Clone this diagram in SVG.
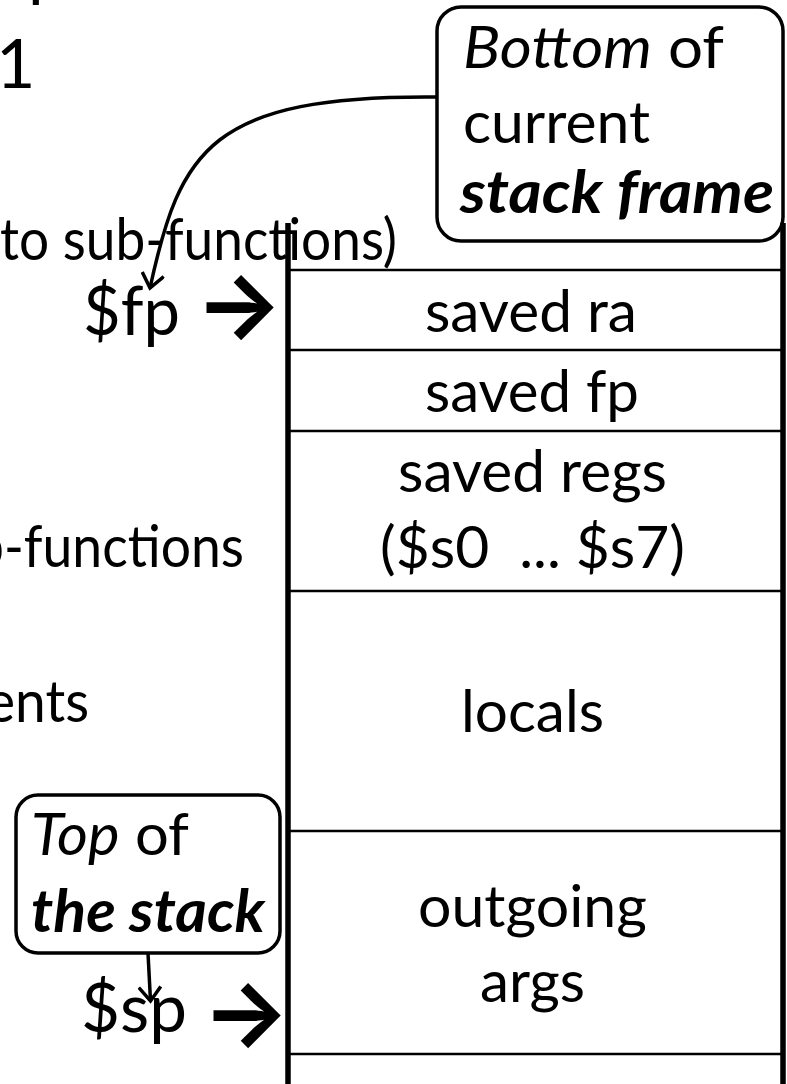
<svg xmlns="http://www.w3.org/2000/svg" width="787" height="1084" viewBox="0 0 787 1084">
<defs>
<style>
text{font-family:Lato,"Open Sans","Noto Sans",sans-serif;fill:#000;}
.body{font-size:59px;}
.big{font-size:68px;}
.arr{font-family:Inter,"DejaVu Sans",sans-serif;font-weight:bold;font-size:92px;}
.it{font-style:italic;}
.bi{font-style:italic;font-weight:bold;}
.pre{white-space:pre;}
.cell{stroke:#000;stroke-width:2.5;}
.wall{stroke:#000;stroke-width:5.5;}
.callout{fill:none;stroke:#000;stroke-width:3.5;}
.conn{fill:none;stroke:#000;stroke-width:3.5;}
</style>
<marker id="open" viewBox="-16 -12 20 24" refX="0" refY="0" markerWidth="20" markerHeight="24" markerUnits="userSpaceOnUse" orient="auto">
<path d="M-14,-11 L0,0 L-14,11" fill="none" stroke="#000" stroke-width="3.5"/>
</marker>
</defs>

<g id="background-text">
<text class="big" x="28" y="-7">p</text>
<text class="big" x="-4" y="88">1</text>
<text class="body" x="0" y="260" textLength="397" lengthAdjust="spacingAndGlyphs">to sub-functions)</text>
<text class="body" x="-26" y="567" textLength="270" lengthAdjust="spacingAndGlyphs">b-functions</text>
<text class="body" x="-14" y="722" textLength="103" lengthAdjust="spacingAndGlyphs">ents</text>
</g>

<g id="stack">
<line class="cell" x1="290" y1="270" x2="781" y2="270"/>
<line class="cell" x1="290" y1="350" x2="781" y2="350"/>
<line class="cell" x1="290" y1="431" x2="781" y2="431"/>
<line class="cell" x1="290" y1="591" x2="781" y2="591"/>
<line class="cell" x1="290" y1="831" x2="781" y2="831"/>
<line class="cell" x1="290" y1="1054" x2="781" y2="1054"/>
<line class="wall" x1="288" y1="223" x2="288" y2="1084"/>
<line class="wall" x1="783" y1="223" x2="783" y2="1084"/>
</g>

<g id="saved-ra"><text class="body" x="425" y="332" textLength="212" lengthAdjust="spacingAndGlyphs">saved ra</text></g>
<g id="saved-fp"><text class="body" x="425" y="412" textLength="214" lengthAdjust="spacingAndGlyphs">saved fp</text></g>
<g id="saved-regs">
<text class="body" x="398" y="492" textLength="269" lengthAdjust="spacingAndGlyphs">saved regs</text>
<text class="body pre" x="380" y="568" textLength="305" lengthAdjust="spacingAndGlyphs">($s0  ... $s7)</text>
</g>
<g id="locals"><text class="body" x="461" y="732" textLength="143" lengthAdjust="spacingAndGlyphs">locals</text></g>
<g id="outgoing-args">
<text class="body" x="418" y="927" textLength="229" lengthAdjust="spacingAndGlyphs">outgoing</text>
<text class="body" x="480" y="1002" textLength="105" lengthAdjust="spacingAndGlyphs">args</text>
</g>

<g id="fp-label">
<text class="big" x="83" y="335" textLength="97" lengthAdjust="spacingAndGlyphs">$fp</text>
<text class="arr" x="195" y="337">→</text>
</g>
<g id="sp-label">
<text class="big" x="81" y="1032" textLength="106" lengthAdjust="spacingAndGlyphs">$sp</text>
<text class="arr" x="202" y="1045">→</text>
</g>

<g id="bottom-callout">
<rect class="callout" x="437" y="7" width="346" height="234" rx="24"/>
<text class="body" x="463" y="68" textLength="261" lengthAdjust="spacingAndGlyphs"><tspan class="it">Bottom</tspan> of</text>
<text class="body" x="463" y="143" textLength="187" lengthAdjust="spacingAndGlyphs">current</text>
<text class="body bi" x="460" y="213" textLength="314" lengthAdjust="spacingAndGlyphs">stack frame</text>
</g>

<g id="top-callout">
<rect class="callout" x="16" y="795" width="264" height="158" rx="22"/>
<text class="body" x="31" y="855" textLength="158" lengthAdjust="spacingAndGlyphs"><tspan class="it">Top</tspan> of</text>
<text class="body bi" x="31" y="932" textLength="234" lengthAdjust="spacingAndGlyphs">the stack</text>
</g>

<g id="connectors">
<path class="conn" d="M437,97 C210,95 180,150 150,288" marker-end="url(#open)"/>
<path class="conn" d="M148,953 L150.5,1001" marker-end="url(#open)"/>
</g>
</svg>
